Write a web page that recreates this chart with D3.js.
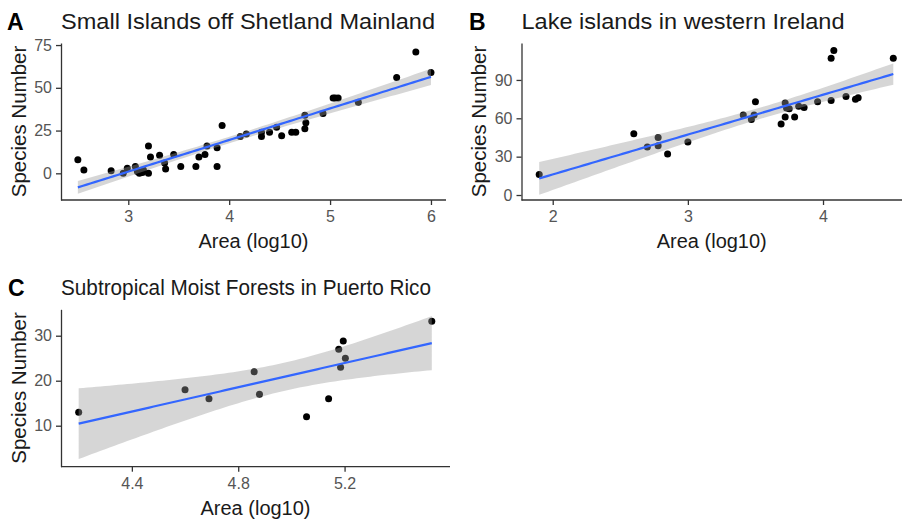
<!DOCTYPE html>
<html lang="en">
<head>
<meta charset="utf-8">
<title>Species-area relationships</title>
<script src="https://cdn.jsdelivr.net/npm/d3@7"></script>
<style>
  body { margin: 0; background: #fff; }
  svg { display: block; font-family: "Liberation Sans", Arial, sans-serif; }
  .tick text { fill: #555; font-size: 16px; }
  .tick line, .domain { stroke: #333; stroke-width: 1.3px; }
</style>
</head>
<body>
<script>
// values

// A: small islands off Shetland Mainland
var areaA = [2.50, 2.56, 2.83, 2.95, 2.99, 3.07, 3.09, 3.11, 3.14, 3.15, 3.20, 3.20, 3.22, 3.31, 3.36,
             3.37, 3.45, 3.52, 3.67, 3.70, 3.76, 3.78, 3.88, 3.88, 3.93, 4.11, 4.17, 4.32, 4.32, 4.40,
             4.47, 4.52, 4.62, 4.66, 4.75, 4.76, 4.75, 4.93, 5.03, 5.05, 5.08, 5.28, 5.66, 5.85, 6.00];
var speciesA = [8, 2, 1.5, 0, 3, 4, 1, 0, 0.5, 2, 16, 0, 9.5, 10.5, 6,
                2.5, 11, 4, 4, 9.5, 11, 16, 4, 15, 28, 21.5, 23, 21.5, 24, 24,
                27, 22, 24, 24, 26, 29.5, 34, 35, 44, 44, 44, 41.5, 56, 71, 59];

// B: lake islands in western Ireland
var areaB = [1.90, 2.60, 2.70, 2.78, 2.78, 2.85, 3.00, 3.41, 3.47, 3.49, 3.50, 3.69, 3.72, 3.72,
             3.73, 3.75, 3.79, 3.82, 3.86, 3.96, 4.06, 4.06, 4.08, 4.17, 4.24, 4.26, 4.52];
var speciesB = [16, 48, 37.5, 45, 38.5, 32, 41.5, 62.5, 59, 62.5, 73, 55.5, 61, 72,
                68, 67.5, 61, 69.5, 68.5, 73, 74, 107, 113, 77, 75, 76, 107];

// C: subtropical moist forests in Puerto Rico
var areaC = [4.20, 4.60, 4.69, 4.86, 4.88, 5.057, 5.14, 5.178, 5.185, 5.195, 5.203, 5.528];
var speciesC = [13, 18, 16, 22, 17, 12, 16, 27, 23, 28.8, 25, 33.2];

var ticksA = {x: [3, 4, 5, 6], y: [0, 25, 50, 75]};
var ticksB = {x: [2, 3, 4], y: [0, 30, 60, 90]};
var ticksC = {x: [4.4, 4.8, 5.2], y: [10, 20, 30]};

var panels = [
  {letter: "A", title: "Small Islands off Shetland Mainland", x: areaA, y: speciesA, ticks: ticksA,
   xd: [2.333, 6.149], xr: [61, 446], yd: [-15.6, 76.2], yr: [200, 43], lx: 7, ytx: 18.5, tw: 374},
  {letter: "B", title: "Lake islands in western Ireland", x: areaB, y: speciesB, ticks: ticksB,
   xd: [1.769, 4.651], xr: [521.5, 911], yd: [-3.9, 118.9], yr: [200, 43], lx: 469, ytx: 479, tw: 323},
  {letter: "C", title: "Subtropical Moist Forests in Puerto Rico", x: areaC, y: speciesC, ticks: ticksC,
   xd: [4.1335, 5.5965], xr: [61, 450], yd: [0.89, 35.87], yr: [466.7, 309.3], lx: 8, ytx: 18.5, tw: 370}
];

var W = 902, H = 522;
var svg = d3.select("body").append("svg").attr("width", W).attr("height", H);

// t quantile (0.975), Cornish-Fisher expansion
function tq(df) {
  var z = 1.959964;
  var g1 = (Math.pow(z, 3) + z) / 4;
  var g2 = (5 * Math.pow(z, 5) + 16 * Math.pow(z, 3) + 3 * z) / 96;
  var g3 = (3 * Math.pow(z, 7) + 19 * Math.pow(z, 5) + 17 * Math.pow(z, 3) - 15 * z) / 384;
  return z + g1 / df + g2 / (df * df) + g3 / (df * df * df);
}

// linear fit with 95% confidence band, like geom_smooth(method = "lm")
function fit(xs, ys) {
  var n = xs.length, mx = d3.mean(xs), my = d3.mean(ys);
  var sxx = 0, sxy = 0;
  for (var i = 0; i < n; i++) {
    sxx += (xs[i] - mx) * (xs[i] - mx);
    sxy += (xs[i] - mx) * (ys[i] - my);
  }
  var b = sxy / sxx, a = my - b * mx, rss = 0;
  for (var i = 0; i < n; i++) rss += Math.pow(ys[i] - a - b * xs[i], 2);
  var s = Math.sqrt(rss / (n - 2)), t = tq(n - 2);
  var ext = d3.extent(xs), out = [];
  for (var k = 0; k <= 80; k++) {
    var x = ext[0] + (ext[1] - ext[0]) * k / 80;
    var yh = a + b * x;
    var se = s * Math.sqrt(1 / n + (x - mx) * (x - mx) / sxx);
    out.push({x: x, y: yh, lo: yh - t * se, hi: yh + t * se});
  }
  return out;
}

panels.forEach(function(p) {
  var x = d3.scaleLinear().domain(p.xd).range(p.xr);
  var y = d3.scaleLinear().domain(p.yd).range(p.yr);
  var g = svg.append("g");
  var top = p.yr[1], bottom = p.yr[0];

  // panel letter and title
  g.append("text").attr("x", p.lx).attr("y", top - 13)
    .style("font-size", "23px").style("font-weight", "bold").text(p.letter);
  g.append("text").attr("x", p.xr[0]).attr("y", top - 14)
    .attr("textLength", p.tw).attr("lengthAdjust", "spacingAndGlyphs")
    .style("font-size", "22px").attr("fill", "#1a1a1a").text(p.title);

  // points
  g.selectAll("circle").data(p.x).enter().append("circle")
    .attr("cx", function(d) { return x(d); })
    .attr("cy", function(d, i) { return y(p.y[i]); })
    .attr("r", 3.5).attr("fill", "#000");

  // smooth
  var sm = fit(p.x, p.y);
  g.append("path").datum(sm)
    .attr("d", d3.area().x(function(d) { return x(d.x); })
      .y0(function(d) { return y(d.lo); }).y1(function(d) { return y(d.hi); }))
    .attr("fill", "#999999").attr("fill-opacity", 0.4);
  g.append("path").datum(sm)
    .attr("d", d3.line().x(function(d) { return x(d.x); }).y(function(d) { return y(d.y); }))
    .attr("fill", "none").attr("stroke", "#3366FF").attr("stroke-width", 2.2);

  // axes
  var xa = g.append("g").attr("transform", "translate(0," + bottom + ")")
    .call(d3.axisBottom(x).tickValues(p.ticks.x).tickSize(5).tickPadding(6).tickSizeOuter(0)
      .tickFormat(d3.format("")));
  var ya = g.append("g").attr("transform", "translate(" + p.xr[0] + ",0)")
    .call(d3.axisLeft(y).tickValues(p.ticks.y).tickSize(5).tickPadding(4).tickSizeOuter(0));
  xa.select(".domain").attr("d", "M" + p.xr[0] + ",0H" + Math.min(p.xr[1], W));

  // axis titles
  g.append("text").attr("text-anchor", "middle")
    .attr("x", (p.xr[0] + Math.min(p.xr[1], 902)) / 2).attr("y", bottom + 48)
    .style("font-size", "20px").attr("fill", "#1a1a1a").text("Area (log10)");
  g.append("text").attr("text-anchor", "middle")
    .attr("transform", "translate(" + (p.ytx + 7) + "," + ((top + bottom) / 2) + ") rotate(-90)")
    .style("font-size", "20.5px").attr("fill", "#1a1a1a").text("Species Number");
});
</script>
</body>
</html>
